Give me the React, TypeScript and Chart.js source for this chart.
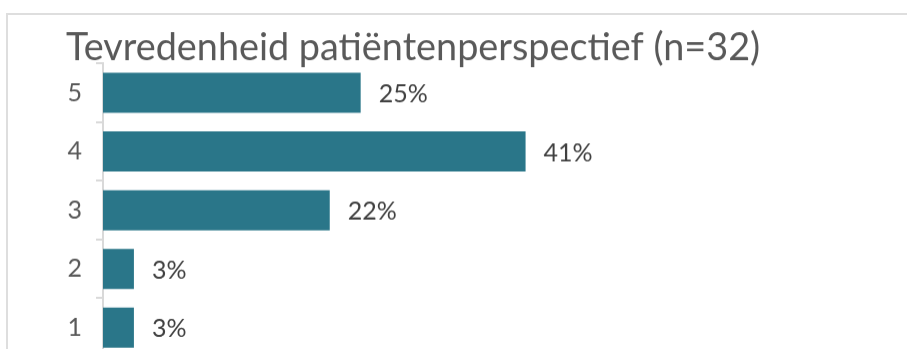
import React, { useEffect, useRef } from "react";
import { Chart, registerables } from "chart.js";
Chart.register(...registerables);

const titleText = "Tevredenheid patiëntenperspectief (n=32)";
const categories = ["5", "4", "3", "2", "1"];
const values = [25, 41, 22, 3, 3];
const valueSuffix = "%";
const xMax = 75;

const FONT = "Lato";
const CANVAS_H = 385.5;

export default function App() {
  const ref = useRef<HTMLCanvasElement>(null);
  useEffect(() => {
    document.body.style.margin = "0";
    let chart: Chart | null = null;
    let cancelled = false;
    const make = () => {
      if (cancelled || !ref.current) return;
      const labelPlugin = {
        id: "valueLabels",
        afterDatasetsDraw(c: any) {
          const ctx = c.ctx;
          const meta = c.getDatasetMeta(0);
          ctx.save();
          ctx.font = `25px ${FONT}`;
          ctx.fillStyle = "#404040";
          ctx.textBaseline = "middle";
          ctx.textAlign = "left";
          meta.data.forEach((bar: any, i: number) => {
            ctx.fillText(values[i] + valueSuffix, bar.x + 18, bar.y + 1.5);
          });
          ctx.font = `37.8px ${FONT}`;
          ctx.fillStyle = "#595959";
          ctx.textBaseline = "alphabetic";
          ctx.fillText(titleText, 66, 60);
          ctx.restore();
        },
      };
      chart = new Chart(ref.current, {
        type: "bar",
        data: {
          labels: categories,
          datasets: [
            {
              data: values,
              backgroundColor: "#2a7689",
              barPercentage: 0.683,
              categoryPercentage: 1,
            },
          ],
        },
        options: {
          indexAxis: "y",
          animation: false,
          responsive: false,
          layout: { padding: { top: 63.3, bottom: 0, right: 31, left: 0 } },
          plugins: {
            legend: { display: false },
            tooltip: { enabled: false },
            title: { display: false },
          },
          scales: {
            x: { display: false, min: 0, max: xMax },
            y: {
              afterFit: (s: any) => {
                s.width = 103;
              },
              grid: {
                display: true,
                drawOnChartArea: false,
                drawTicks: true,
                tickLength: 7,
                color: "#d9d9d9",
                lineWidth: 2,
                offset: true,
              },
              border: { display: true, color: "#d9d9d9", width: 2 },
              ticks: { color: "#595959", font: { family: FONT, size: 25 }, padding: 14 },
            },
          },
        },
        plugins: [labelPlugin],
      } as any);
    };
    (document as any).fonts
      .load(`25px ${FONT}`)
      .then(make, make);
    return () => {
      cancelled = true;
      if (chart) chart.destroy();
    };
  }, []);
  return (
    <div
      style={{
        position: "fixed",
        left: 0,
        top: 0,
        width: 907,
        height: 349,
        overflow: "hidden",
        background: "#fff",
      }}
    >
      <div
        style={{
          position: "absolute",
          left: 6,
          top: 13,
          width: 1000,
          height: 500,
          border: "2px solid #dedede",
        }}
      />
      <canvas
        ref={ref}
        width={907}
        height={CANVAS_H}
        style={{ position: "absolute", left: 0, top: 0, width: 907, height: CANVAS_H }}
      />
    </div>
  );
}
